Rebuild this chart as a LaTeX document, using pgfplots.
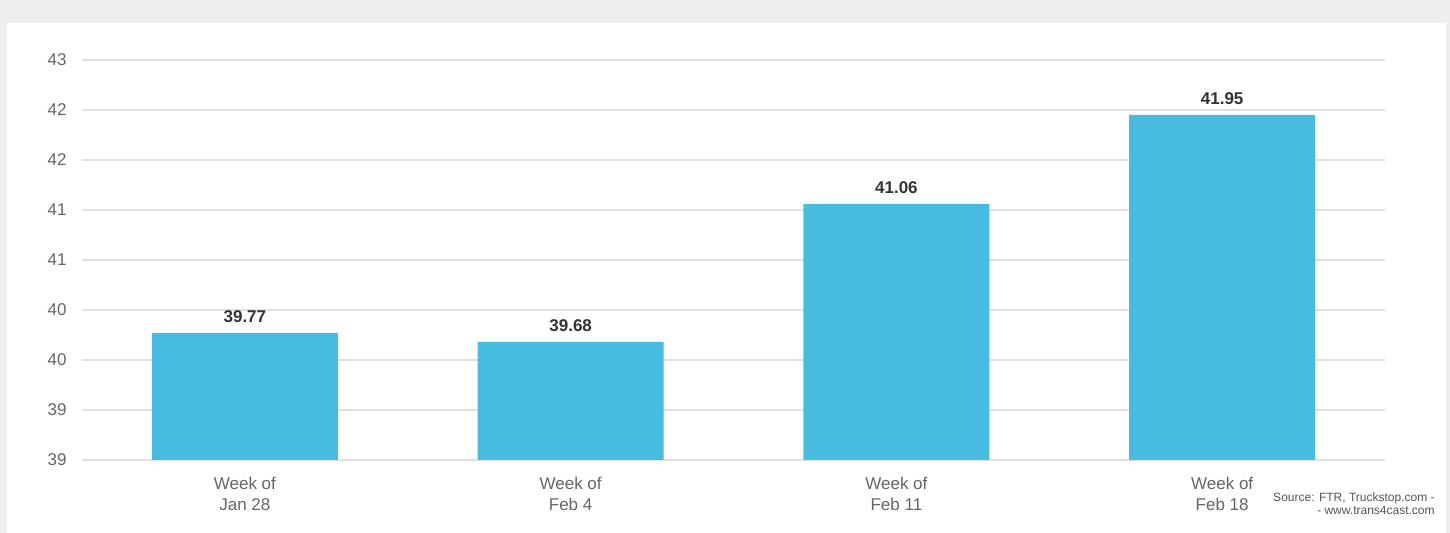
\documentclass[border=0pt]{standalone}
\usepackage{fontspec}
\setmainfont{Liberation Sans}
\usepackage{pgfplots}
\pgfplotsset{compat=1.18}
\definecolor{barblue}{HTML}{48BCE0}
\definecolor{gridgray}{HTML}{E0E0E0}
\definecolor{bggray}{HTML}{EFEFEF}
\definecolor{ticktext}{HTML}{666666}
\definecolor{valtext}{HTML}{333333}
\definecolor{srctext}{HTML}{555555}
\begin{document}
\begin{tikzpicture}[x=0.5bp,y=0.5bp]
\useasboundingbox (0,0) rectangle (1450,533);
\fill[bggray] (0,0) rectangle (1450,533);
\fill[white] (7,0) rectangle (1446,510);
\begin{axis}[
  at={(41bp,36.5bp)}, anchor=south west,
  scale only axis, width=651.5bp, height=200bp,
  xmin=-0.5, xmax=3.5, ymin=38.5, ymax=42.5,
  axis line style={draw=none}, tick style={draw=none},
  ymajorgrids, grid style={gridgray, line width=1bp},
  ytick={38.5,39,39.5,40,40.5,41,41.5,42,42.5},
  yticklabels={39,39,40,40,41,41,42,42,43},
  xtick={0,1,2,3},
  xticklabels={{Week of\\Jan 28},{Week of\\Feb 4},{Week of\\Feb 11},{Week of\\Feb 18}},
  ticklabel style={font=\fontsize{8.5bp}{10.5bp}\selectfont, text=ticktext, inner sep=0pt},
  xticklabel style={align=center},
  xticklabel shift=4bp, yticklabel shift=7.5bp,
  ybar, bar width=93bp, bar shift=0pt,
  clip=false,
  nodes near coords={\pgfmathprintnumber[fixed,fixed zerofill,precision=2,assume math mode=true]{\pgfplotspointmeta}},
  every node near coord/.append style={anchor=base, yshift=5bp, inner sep=0pt, font=\fontsize{8.5bp}{10.5bp}\selectfont\bfseries, text=valtext},
]
\addplot[fill=barblue, draw=none] coordinates {(0,39.77) (1,39.68) (2,41.06) (3,41.95)};
\end{axis}
\node[anchor=base east, inner sep=0pt, font=\fontsize{6bp}{7bp}\selectfont, text=srctext] at (1435,31) {Source: FTR, Truckstop.com -};
\node[anchor=base east, inner sep=0pt, font=\fontsize{6bp}{7bp}\selectfont, text=srctext] at (1435,18) {- www.trans4cast.com};
\end{tikzpicture}
\end{document}
